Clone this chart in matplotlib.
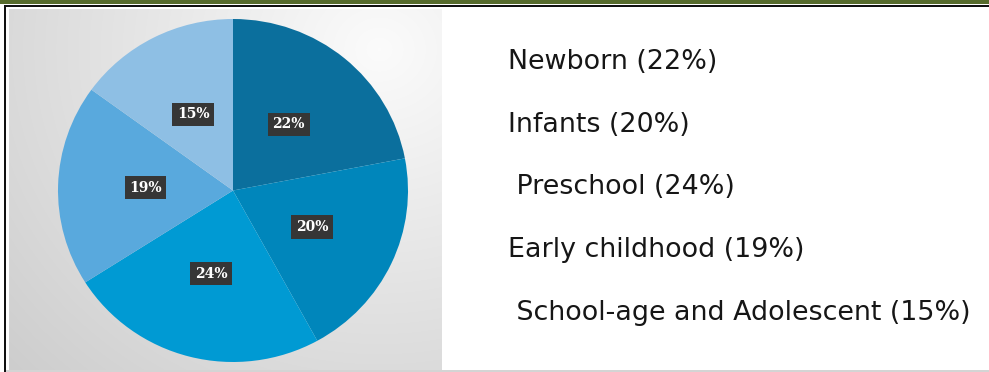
import matplotlib.pyplot as plt
import numpy as np
from matplotlib.patches import Rectangle

# age groups and their share (%)
groups = ["Newborn", "Infants", " Preschool", "Early childhood", " School-age and Adolescent"]
shares = [22, 20, 24, 19, 15]
colors = ["#0b6f9d", "#0086bb", "#009ad3", "#59a9dd", "#8ebfe4"]

W, H = 989, 372
fig = plt.figure(figsize=(W / 100, H / 100), dpi=100)
fig.patch.set_facecolor("white")

# full-figure axes in pixel units for the frame and the shaded panel
bg = fig.add_axes([0, 0, 1, 1])
bg.set_xlim(0, W)
bg.set_ylim(H, 0)
bg.axis("off")

bg.add_patch(Rectangle((0, 0), W, 3.8, color="#566b2c", lw=0))
bg.add_patch(Rectangle((4, 4.8), W - 4, 2.0, color="#111111", lw=0))
bg.add_patch(Rectangle((4, 4.8), 2.4, H, color="#111111", lw=0))
bg.add_patch(Rectangle((6.4, 370.4), W, 1.6, color="#d4d4d4", lw=0))

# soft radial shading behind the pie
px0, px1, py0, py1 = 9, 442, 9.5, 370
yy, xx = np.mgrid[0:int(py1 - py0), 0:int(px1 - px0)]
d = np.hypot(xx - 370, (yy - 40) * 1.1)
shade = np.clip(0.985 - 0.17 * d / 480, 0.80, 1.0)
bg.imshow(np.dstack([shade] * 3), extent=(px0, px1, py1, py0),
          origin="upper", aspect="auto", interpolation="bilinear")
bg.set_xlim(0, W)
bg.set_ylim(H, 0)

# pie, slightly wider than tall
ax = fig.add_axes([58 / W, (H - 362) / H, 350 / W, 343 / H])
ax.patch.set_visible(False)
wedges, _, autotexts = ax.pie(
    shares,
    colors=colors,
    startangle=90,
    counterclock=False,
    radius=1.0,
    autopct="%.0f%%",
    pctdistance=0.5,
    wedgeprops=dict(linewidth=0),
    textprops=dict(color="white", fontsize=10, fontweight="bold",
                   family="DejaVu Serif"),
)
for t in autotexts:
    t.set_bbox(dict(boxstyle="square,pad=0.33", facecolor="#363636",
                    edgecolor="none"))
ax.set_aspect("auto")
ax.set_xlim(-1, 1)
ax.set_ylim(-1, 1)
ax.axis("off")

# category list on the right
ys = [62, 125, 187, 250, 313]
for name, share, y in zip(groups, shares, ys):
    bg.text(508, y, f"{name} ({share}%)", fontsize=19.4, family="DejaVu Sans",
            color="#161616", va="center", ha="left")

fig.savefig("out.png", dpi=100)
